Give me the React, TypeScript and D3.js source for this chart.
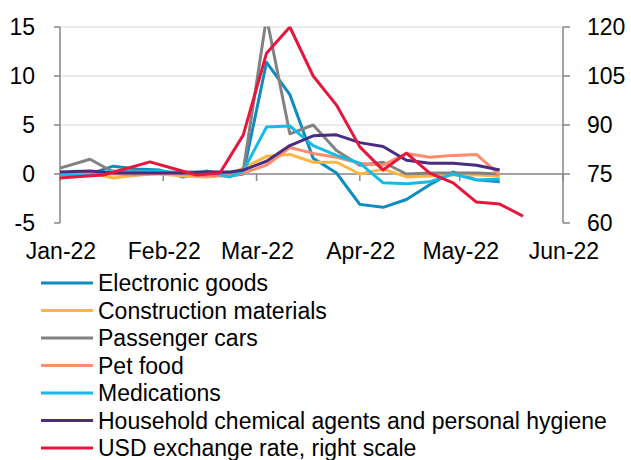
import React from "react";
import * as d3 from "d3";

// Weekly price change series (left scale) and USD rate (right scale)
const priceDates = [
  "2022-01-01", "2022-01-10", "2022-01-17", "2022-01-24", "2022-01-31",
  "2022-02-07", "2022-02-14", "2022-02-21", "2022-02-25", "2022-03-04",
  "2022-03-11", "2022-03-18", "2022-03-25", "2022-04-01", "2022-04-08",
  "2022-04-15", "2022-04-22", "2022-04-29", "2022-05-06", "2022-05-13",
];
const usdDates = [
  "2022-01-01", "2022-01-07", "2022-01-14", "2022-01-21", "2022-01-28",
  "2022-02-04", "2022-02-11", "2022-02-18", "2022-02-25", "2022-03-04",
  "2022-03-11", "2022-03-18", "2022-03-25", "2022-04-01", "2022-04-08",
  "2022-04-15", "2022-04-22", "2022-04-29", "2022-05-06", "2022-05-13",
  "2022-05-20",
];

const electronicGoods = [0.0, 0.0, 0.8, 0.5, 0.4, -0.3, 0.3, -0.2, 0.0, 11.4, 8.1, 1.6, 0.1, -3.1, -3.4, -2.6, -1.1, 0.2, -0.6, -0.8];
const constructionMaterials = [0.1, 0.1, -0.4, -0.1, 0.0, -0.2, -0.3, 0.0, 0.6, 1.8, 2.0, 1.2, 1.2, 0.0, 0.5, -0.3, -0.2, -0.1, -0.1, -0.2];
const passengerCars = [0.6, 1.5, 0.2, 0.3, 0.1, 0.2, 0.2, 0.1, 0.3, 16.0, 4.1, 5.0, 2.4, 0.9, 1.2, 0.0, 0.1, 0.1, 0.1, 0.0];
const petFood = [0.0, 0.1, 0.0, -0.1, 0.1, 0.0, -0.2, -0.2, 0.1, 0.9, 2.7, 2.1, 1.7, 1.1, 0.9, 2.1, 1.7, 1.9, 2.0, -0.1];
const medications = [-0.1, -0.1, 0.3, 0.2, 0.3, 0.1, 0.2, -0.3, 0.3, 4.8, 4.9, 2.9, 1.9, 1.1, -0.9, -1.0, -0.8, 0.0, -0.6, -0.5];
const householdChemicals = [0.2, 0.3, 0.1, 0.1, 0.1, 0.1, 0.2, 0.2, 0.4, 1.3, 2.9, 3.9, 4.0, 3.2, 2.8, 1.4, 1.1, 1.1, 0.9, 0.4];
const usdRate = [73.8, 74.2, 74.7, 76.7, 78.7, 76.7, 74.7, 75.3, 86.9, 112, 120, 105, 96.1, 83.3, 76.2, 81.4, 75.3, 72.3, 66.4, 65.8, 62.1];

const leftTicks = [-5, 0, 5, 10, 15];
const rightTicks = [60, 75, 90, 105, 120];
const monthTicks = ["2022-01-01", "2022-02-01", "2022-03-01", "2022-04-01", "2022-05-01", "2022-06-01"];
const monthLabels = ["Jan-22", "Feb-22", "Mar-22", "Apr-22", "May-22", "Jun-22"];

const seriesNames = [
  "Electronic goods",
  "Construction materials",
  "Passenger cars",
  "Pet food",
  "Medications",
  "Household chemical agents and personal hygiene",
  "USD exchange rate, right scale",
];
const seriesColors = ["#0f8cbf", "#ffb640", "#828282", "#ff8c6b", "#14bbe8", "#4a2d80", "#e8163c"];

const W = 631;
const H = 460;
const left = 60;
const right = 563;
const top = 27;
const bottom = 223;
const font = "'Liberation Sans', Arial, sans-serif";
const fs = 23;
const axisColor = "#868686";
const gridColor = "#d9d9d9";

export default function App() {
  const parse = (s: string) => new Date(s + "T00:00:00Z");
  const x = d3.scaleUtc().domain([parse("2022-01-01"), parse("2022-06-01")]).range([left, right]);
  const yL = d3.scaleLinear().domain([-5, 15]).range([bottom, top]);
  const yR = d3.scaleLinear().domain([60, 120]).range([bottom, top]);

  const priceSeries = [electronicGoods, constructionMaterials, passengerCars, petFood, medications, householdChemicals];
  const lineL = d3.line<[string, number]>().x((d) => x(parse(d[0]))).y((d) => yL(d[1]));
  const lineR = d3.line<[string, number]>().x((d) => x(parse(d[0]))).y((d) => yR(d[1]));

  const zeroY = yL(0);

  return (
    <svg width={W} height={H} style={{ position: "absolute", left: 0, top: 0, background: "#fff" }} fontFamily={font}>
      <defs>
        <clipPath id="plot-clip">
          <rect x={0} y={top - 0.5} width={W} height={bottom - top + 20} />
        </clipPath>
      </defs>

      {/* horizontal gridlines */}
      {leftTicks.filter((t) => t > 0).map((t) => (
        <line key={"g" + t} x1={left} x2={right} y1={yL(t)} y2={yL(t)} stroke={gridColor} strokeWidth={1.2} />
      ))}

      {/* left axis */}
      <line x1={left} x2={left} y1={top} y2={bottom} stroke={axisColor} strokeWidth={1.5} />
      {leftTicks.map((t) => (
        <g key={"l" + t}>
          <line x1={left - 6} x2={left} y1={yL(t)} y2={yL(t)} stroke={axisColor} strokeWidth={1.5} />
          <text x={35} y={yL(t)} dy="0.36em" textAnchor="end" fontSize={fs} fill="#000">{t}</text>
        </g>
      ))}

      {/* right axis */}
      <line x1={right} x2={right} y1={top} y2={bottom} stroke={axisColor} strokeWidth={1.5} />
      {rightTicks.map((t) => (
        <g key={"r" + t}>
          <line x1={right} x2={right + 7} y1={yR(t)} y2={yR(t)} stroke={axisColor} strokeWidth={1.5} />
          <text x={587} y={yR(t)} dy="0.36em" textAnchor="start" fontSize={fs} fill="#000">{t}</text>
        </g>
      ))}

      {/* category axis at zero */}
      <line x1={left} x2={right} y1={zeroY} y2={zeroY} stroke={axisColor} strokeWidth={1.5} />
      {monthTicks.map((m, i) => (
        <g key={m}>
          <line x1={x(parse(m))} x2={x(parse(m))} y1={zeroY} y2={zeroY + 7} stroke={axisColor} strokeWidth={1.5} />
          <text x={x(parse(m)) + 1} y={259} textAnchor="middle" fontSize={fs} fill="#000">{monthLabels[i]}</text>
        </g>
      ))}

      {/* series */}
      <g clipPath="url(#plot-clip)" fill="none" strokeWidth={3} strokeLinejoin="round">
        {priceSeries.map((vals, i) => (
          <path
            key={seriesNames[i]}
            d={lineL(priceDates.map((d, j) => [d, vals[j]] as [string, number])) || ""}
            stroke={seriesColors[i]}
          />
        ))}
        <path
          d={lineR(usdDates.map((d, j) => [d, usdRate[j]] as [string, number])) || ""}
          stroke={seriesColors[6]}
        />
      </g>

      {/* legend */}
      {seriesNames.map((name, i) => {
        const ly = 283 + i * 27.5;
        return (
          <g key={"leg" + i}>
            <line x1={41} x2={93} y1={ly} y2={ly} stroke={seriesColors[i]} strokeWidth={3} />
            <text x={98} y={ly + 8} fontSize={fs} fill="#000">{name}</text>
          </g>
        );
      })}
    </svg>
  );
}
